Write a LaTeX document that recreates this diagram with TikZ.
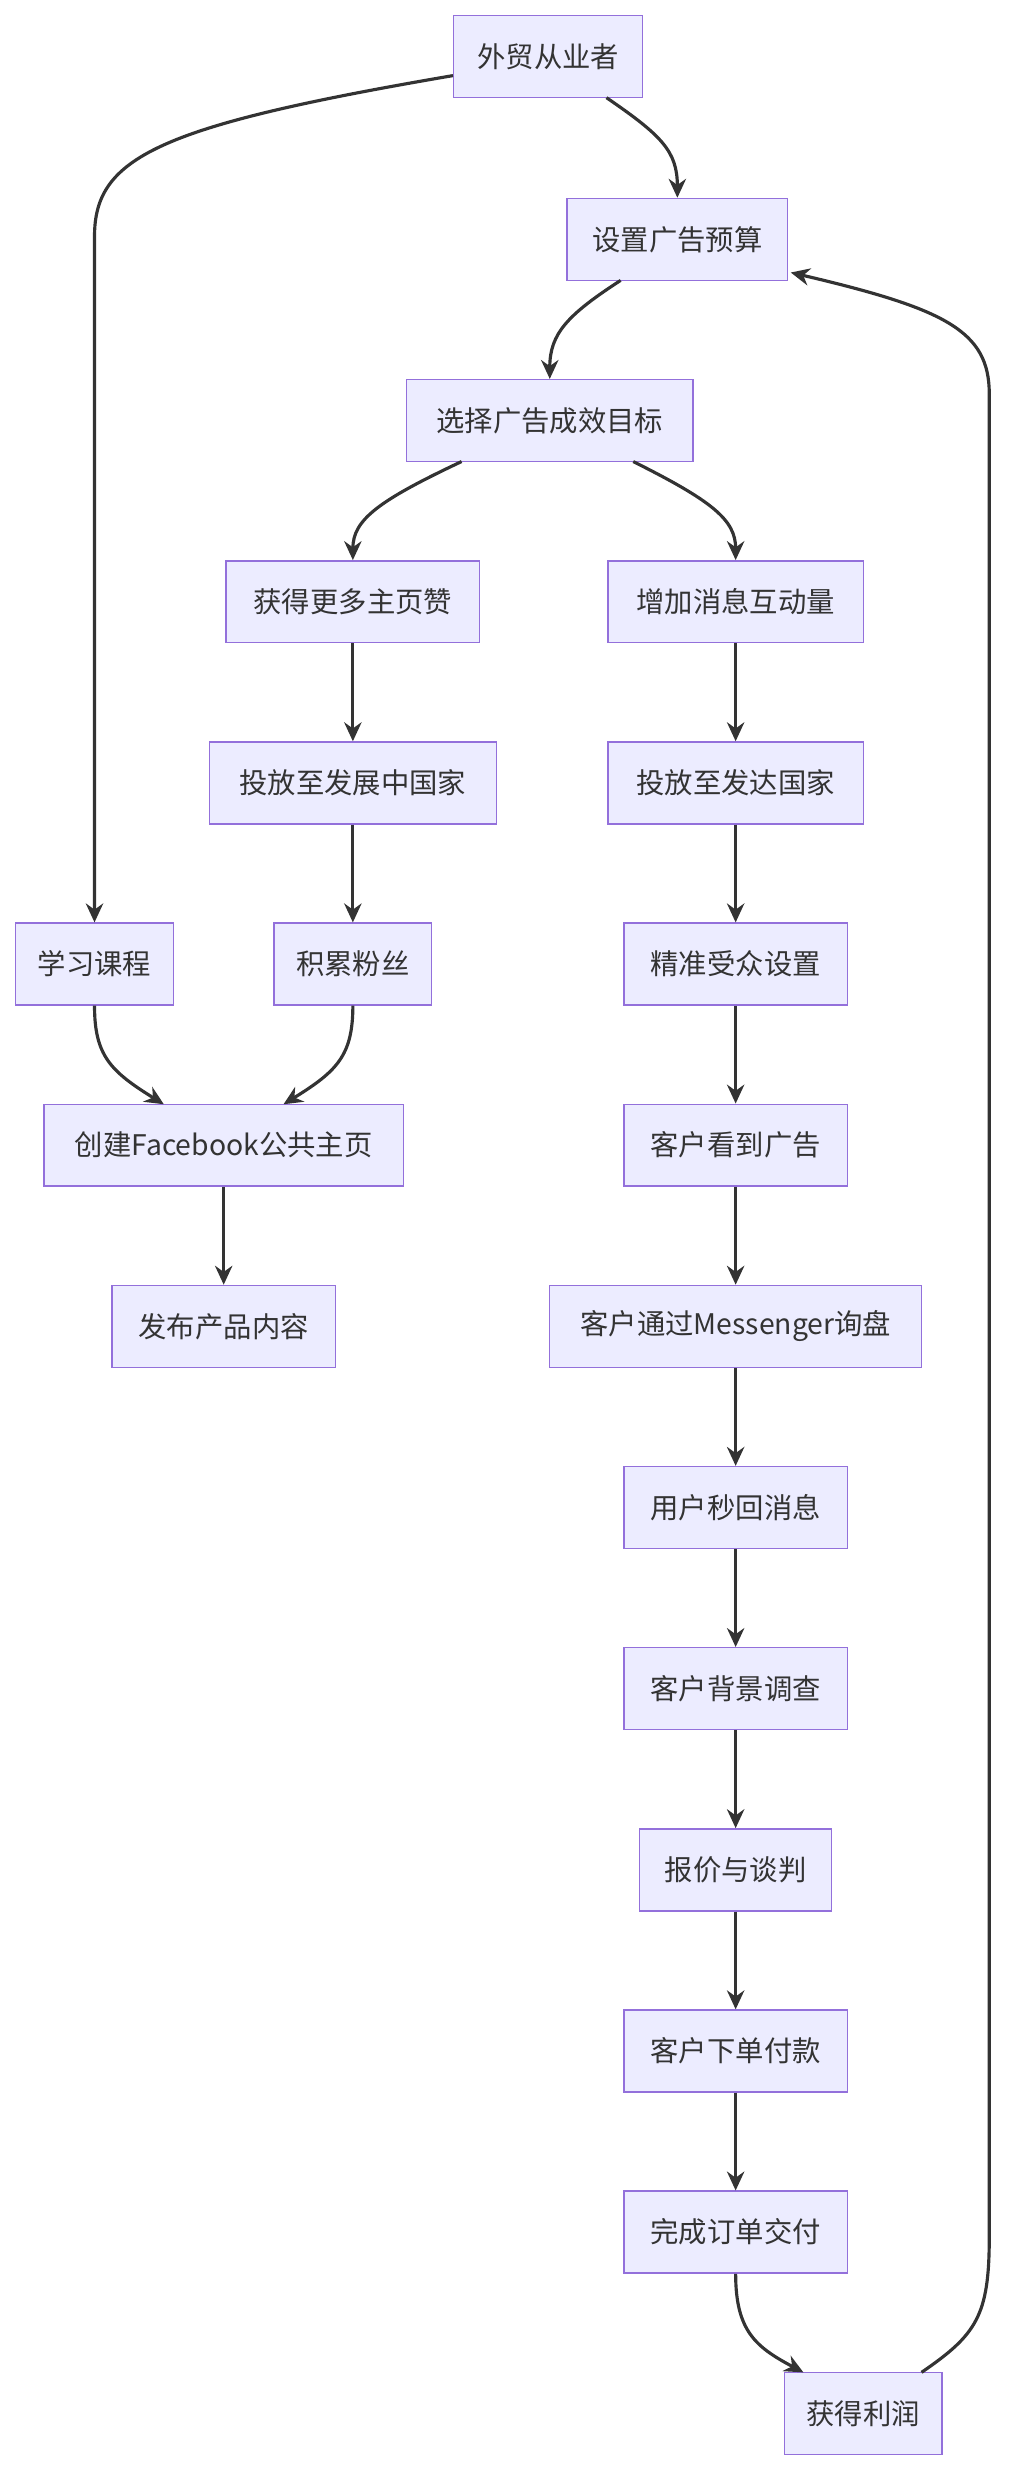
\documentclass[tikz,border=0pt]{standalone}
\usepackage{fontspec}
\setmainfont{Noto Sans CJK SC}
\usetikzlibrary{arrows.meta}
\definecolor{nfill}{HTML}{ECECFF}
\definecolor{nline}{HTML}{9370DB}
\definecolor{eline}{HTML}{333333}
\begin{document}
\begin{tikzpicture}[x=1pt,y=-1pt,
  box/.style={draw=nline,fill=nfill,line width=0.9pt,minimum height=52pt,inner xsep=8pt,font=\fontsize{18}{20}\selectfont,text=eline},
  e/.style={draw=eline,line width=2pt,-{Stealth[length=12pt,width=11pt]}}]
\useasboundingbox (0,0) rectangle (640,1568);
\node[box,minimum width=120pt] (a) at (348,36) {外贸从业者};
\node[box,minimum width=140pt] (b) at (430,152) {设置广告预算};
\node[box,minimum width=182pt] (c) at (349,267) {选择广告成效目标};
\node[box,minimum width=161pt] (d) at (224,382) {获得更多主页赞};
\node[box,minimum width=162pt] (e1) at (467,382) {增加消息互动量};
\node[box,minimum width=182pt] (f) at (224,497) {投放至发展中国家};
\node[box,minimum width=162pt] (g) at (467,497) {投放至发达国家};
\node[box,minimum width=100pt] (h) at (60,612) {学习课程};
\node[box,minimum width=100pt] (i) at (224,612) {积累粉丝};
\node[box,minimum width=142pt] (j) at (467,612) {精准受众设置};
\node[box,minimum width=228pt] (k) at (142,727) {创建Facebook公共主页};
\node[box,minimum width=142pt] (l) at (467,727) {客户看到广告};
\node[box,minimum width=142pt] (m) at (142,842) {发布产品内容};
\node[box,minimum width=236pt] (n) at (467,842) {客户通过Messenger询盘};
\node[box,minimum width=142pt] (o) at (467,957) {用户秒回消息};
\node[box,minimum width=142pt] (p) at (467,1072) {客户背景调查};
\node[box,minimum width=122pt] (q) at (467,1187) {报价与谈判};
\node[box,minimum width=142pt] (r) at (467,1302) {客户下单付款};
\node[box,minimum width=142pt] (s) at (467,1417) {完成订单交付};
\node[box,minimum width=100pt] (t) at (548,1532) {获得利润};
% edges
\draw[e] (a.west|-0,48) .. controls (100,80) and (60,100) .. (60,150) -- (h.north);
\draw[e] (385,62) .. controls (420,86) and (430,96) .. (b.north);
\draw[e] (394,178) .. controls (360,200) and (349,212) .. (c.north);
\draw[e] (293,293) .. controls (240,318) and (224,330) .. (d.north);
\draw[e] (402,293) .. controls (452,318) and (467,330) .. (e1.north);
\draw[e] (d) -- (f);
\draw[e] (e1) -- (g);
\draw[e] (f) -- (i);
\draw[e] (g) -- (j);
\draw[e] (h.south) .. controls (60,670) and (70,680) .. (104,701);
\draw[e] (i.south) .. controls (224,670) and (214,680) .. (180,701);
\draw[e] (j) -- (l);
\draw[e] (k) -- (m);
\draw[e] (l) -- (n);
\draw[e] (n) -- (o);
\draw[e] (o) -- (p);
\draw[e] (p) -- (q);
\draw[e] (q) -- (r);
\draw[e] (r) -- (s);
\draw[e] (s.south) .. controls (467,1480) and (480,1490) .. (510,1506);
\draw[e] (585,1506) .. controls (620,1482) and (628,1470) .. (628,1420) -- (628,250) .. controls (628,210) and (600,196) .. (502,173);
\end{tikzpicture}
\end{document}
